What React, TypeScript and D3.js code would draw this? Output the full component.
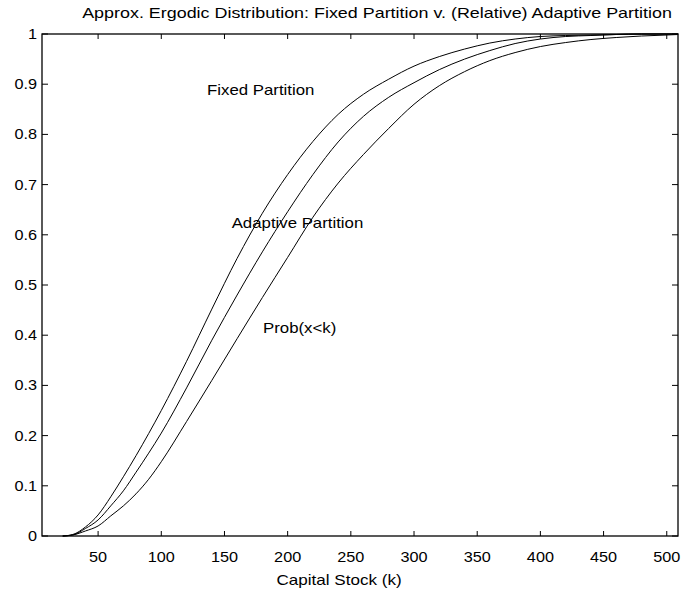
import React from "react";
import * as d3 from "d3";

// Capital stock grid (k) and the three cumulative distributions
const capital = [22, 30, 40, 50, 60, 70, 80, 90, 100, 120, 140, 160, 180, 200, 220, 240, 260, 280, 300, 320, 340, 360, 380, 400, 420, 440, 460, 480, 500, 509];
const fixedPartition = [0, 0.003, 0.018, 0.042, 0.078, 0.118, 0.16, 0.204, 0.25, 0.348, 0.452, 0.553, 0.643, 0.72, 0.786, 0.84, 0.88, 0.91, 0.936, 0.955, 0.97, 0.982, 0.99, 0.995, 0.997, 0.998, 0.999, 1, 1, 1];
const adaptivePartition = [0, 0.002, 0.015, 0.032, 0.06, 0.09, 0.127, 0.165, 0.205, 0.295, 0.39, 0.48, 0.566, 0.646, 0.72, 0.785, 0.836, 0.874, 0.903, 0.929, 0.95, 0.967, 0.981, 0.99, 0.995, 0.997, 0.999, 1, 1, 1];
const probXK = [0, 0.002, 0.01, 0.02, 0.04, 0.06, 0.084, 0.113, 0.148, 0.228, 0.31, 0.393, 0.475, 0.555, 0.635, 0.703, 0.76, 0.812, 0.86, 0.897, 0.925, 0.947, 0.963, 0.975, 0.983, 0.989, 0.993, 0.996, 0.998, 0.999];

const xTicks = [50, 100, 150, 200, 250, 300, 350, 400, 450, 500];
const yTicks = [0, 0.1, 0.2, 0.3, 0.4, 0.5, 0.6, 0.7, 0.8, 0.9, 1];
const yTickLabels = ["0", "0.1", "0.2", "0.3", "0.4", "0.5", "0.6", "0.7", "0.8", "0.9", "1"];

const title = "Approx. Ergodic Distribution: Fixed Partition v. (Relative) Adaptive Partition";
const xLabel = "Capital Stock (k)";
// text annotations placed in data coordinates (left edge, baseline)
const annotations = [
  { text: "Fixed Partition", k: 136.2, p: 0.878 },
  { text: "Adaptive Partition", k: 155.7, p: 0.614 },
  { text: "Prob(x<k)", k: 180.5, p: 0.405 },
];

const W = 684;
const H = 596;
const FONT = "'Liberation Sans', Arial, Helvetica, sans-serif";

function Label({ x, y, sx, anchor, size, children }: any) {
  return (
    <text
      transform={`translate(${x},${y}) scale(${sx},1)`}
      textAnchor={anchor}
      fontSize={size}
      fontFamily={FONT}
      fill="#000"
    >
      {children}
    </text>
  );
}

export default function App() {
  const left = 42, right = 678, top = 34, bottom = 536;
  const x = d3.scaleLinear().domain([5.6, 508.9]).range([left, right]);
  const y = d3.scaleLinear().domain([0, 1]).range([bottom, top]);

  const line = d3
    .line<number>()
    .x((_, i) => x(capital[i]))
    .y((d) => y(d))
    .curve(d3.curveMonotoneX);

  const series = [fixedPartition, adaptivePartition, probXK];

  return (
    <svg
      width={W}
      height={H}
      style={{ position: "absolute", left: 0, top: 0, background: "#fff" }}
    >
      <rect x={0} y={0} width={W} height={H} fill="#fff" />

      {series.map((s, i) => (
        <path key={i} d={line(s) || ""} fill="none" stroke="#000" strokeWidth={1} />
      ))}

      {/* axes box */}
      <rect x={left} y={top} width={right - left} height={bottom - top} fill="none" stroke="#000" strokeWidth={1.3} />

      {xTicks.map((t) => (
        <g key={"x" + t}>
          <line x1={x(t)} x2={x(t)} y1={bottom} y2={bottom - 5} stroke="#000" />
          <line x1={x(t)} x2={x(t)} y1={top} y2={top + 5} stroke="#000" />
          <Label x={x(t)} y={562} sx={1.16} anchor="middle" size={14}>
            {String(t)}
          </Label>
        </g>
      ))}

      {yTicks.map((t, i) => (
        <g key={"y" + t}>
          <line x1={left} x2={left + 6} y1={y(t)} y2={y(t)} stroke="#000" />
          <line x1={right} x2={right - 6} y1={y(t)} y2={y(t)} stroke="#000" />
          <Label x={37} y={y(t) + 5} sx={1.16} anchor="end" size={14}>
            {yTickLabels[i]}
          </Label>
        </g>
      ))}

      {annotations.map((a) => (
        <Label key={a.text} x={x(a.k)} y={y(a.p)} sx={1.2} anchor="start" size={14}>
          {a.text}
        </Label>
      ))}

      <Label x={377} y={18} sx={1.28} anchor="middle" size={14}>
        {title}
      </Label>
      <Label x={339} y={585} sx={1.22} anchor="middle" size={14}>
        {xLabel}
      </Label>
    </svg>
  );
}
